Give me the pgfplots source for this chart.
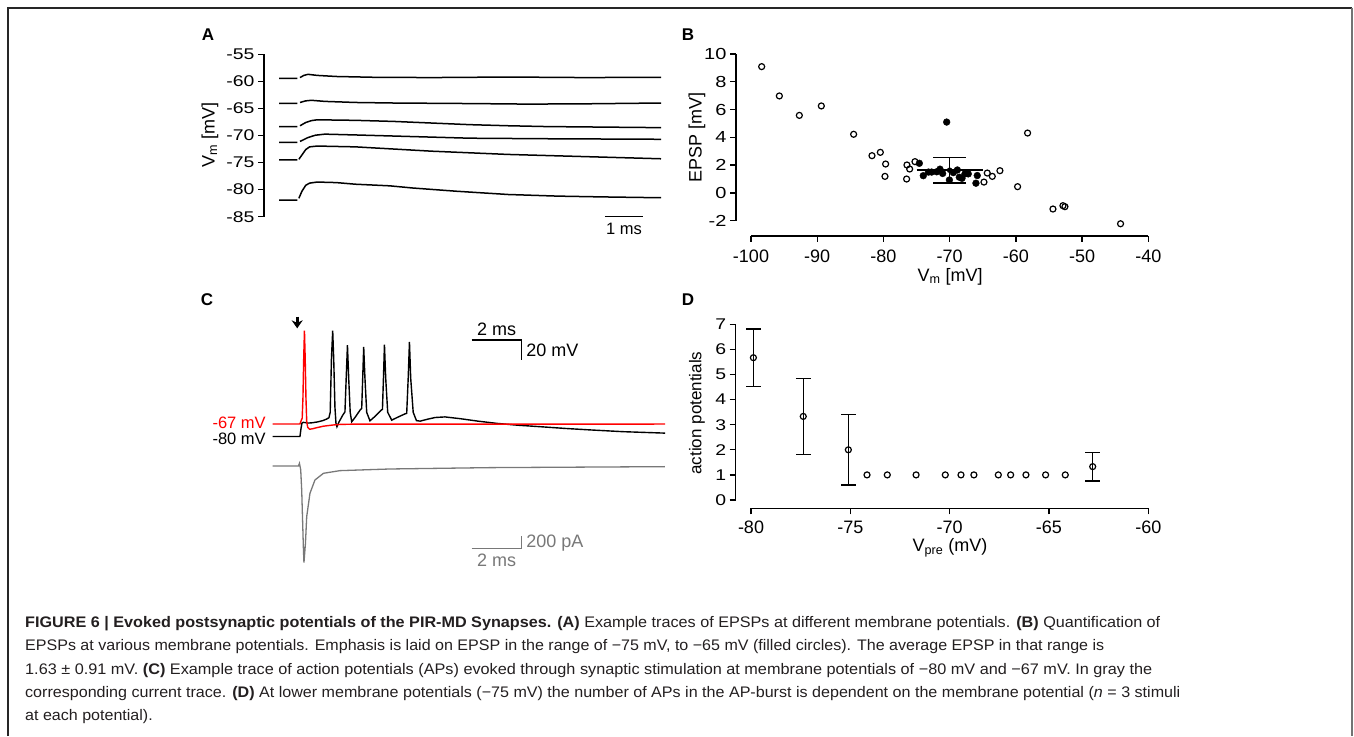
\documentclass[border=0pt]{standalone}
\usepackage{fontspec}
\setmainfont{Liberation Sans}
\newfontfamily\widefont[FakeStretch=1.25]{Liberation Sans}
\usepackage{graphicx}
\usepackage{pgfplots}
\pgfplotsset{compat=1.18}
\usetikzlibrary{arrows.meta}
\definecolor{trgray}{RGB}{120,120,120}
\definecolor{captxt}{RGB}{35,31,32}
\newcommand\fs[1]{\fontsize{#1}{#1}\selectfont}

\pgfplotsset{
  prism/.style={
    scale only axis, clip=false, separate axis lines,
    axis line style={line width=1.4pt, black},
    every tick/.style={line width=1.4pt, black},
    tick align=outside, major tick length=6pt, minor tick num=0,
    /pgf/number format/assume math mode=true,
    /pgf/number format/1000 sep={},
    yticklabel style={font=\widefont\fs{15.5}},
    xticklabel style={font=\fs{18}},
    label style={font=\fs{18}},
  },
  trace/.style={hide axis, scale only axis, clip=false},
}

\newlength\capw
\settowidth\capw{\fs{15.3}EPSPs at various membrane potentials. Emphasis is laid on EPSP in the range of −75 mV, to −65 mV (filled circles). The average EPSP in that range is}
\pgfmathsetmacro\capscale{1079/\capw}

\begin{document}
\begin{tikzpicture}
\useasboundingbox (0pt,0pt) rectangle (1354pt,736pt);
\fill[white] (0pt,0pt) rectangle (1354pt,736pt);
\draw[line width=1.5pt, black!85] (8pt,0pt) -- (8pt,728pt) -- (1352pt,728pt);
\draw[line width=1.5pt, black!55] (1352pt,728pt) -- (1352pt,0pt);

% panel letters
\node[font=\bfseries\fs{17}] at (208pt,701pt) {A};
\node[font=\bfseries\fs{17}] at (688pt,701pt) {B};
\node[font=\bfseries\fs{17}] at (207pt,436pt) {C};
\node[font=\bfseries\fs{17}] at (688pt,436pt) {D};

% ---------------- A ----------------
\begin{axis}[prism, at={(279pt,519.3pt)}, anchor=south west,
  width=382pt, height=162.4pt,
  xmin=0, xmax=10, ymin=-85, ymax=-55,
  axis x line=none, axis y line*=left, axis y line shift=15pt,
  ytick={-85,-80,...,-55},
  ylabel={V\textsubscript{m} [mV]},
  ylabel style={at={(axis description cs:-0.181,0.5)}, anchor=center},
  unbounded coords=jump]
\addplot[black, line width=1.5pt] coordinates {
  (0,-59.45)(0.48,-59.45)(0.5,nan)(0.55,-59.3)(0.65,-58.9)(0.76,-58.7)(1.0,-58.9)
  (1.5,-59.1)(2.5,-59.25)(4,-59.3)(6,-59.2)(8,-59.3)(10,-59.25)};
\addplot[black, line width=1.5pt] coordinates {
  (0,-64.05)(0.48,-64.05)(0.5,nan)(0.55,-63.9)(0.7,-63.6)(0.85,-63.5)(1.2,-63.7)
  (2,-63.9)(3,-64.0)(5,-64.1)(6.5,-64.2)(8,-64.15)(10,-64.0)};
\addplot[black, line width=1.5pt] coordinates {
  (0,-68.35)(0.48,-68.35)(0.5,nan)(0.55,-68.2)(0.7,-67.6)(0.85,-67.25)(1.0,-67.1)
  (2,-67.2)(3,-67.4)(4,-67.7)(5,-68.0)(6,-68.2)(7,-68.35)(8.5,-68.45)(10,-68.55)};
\addplot[black, line width=1.5pt] coordinates {
  (0,-71.25)(0.48,-71.25)(0.5,nan)(0.55,-71.1)(0.75,-70.4)(0.95,-69.95)(1.2,-69.75)
  (2,-69.9)(3,-70.1)(4,-70.3)(5,-70.5)(7,-70.6)(8.5,-70.65)(10,-70.7)};
\addplot[black, line width=1.5pt] coordinates {
  (0,-74.5)(0.48,-74.5)(0.5,nan)(0.52,-74.4)(0.6,-73.6)(0.7,-72.6)(0.8,-72.1)(1.0,-71.95)
  (2,-72.1)(3,-72.5)(4,-72.9)(5,-73.2)(6,-73.5)(7,-73.7)(8,-73.9)(9,-74.1)(10,-74.3)};
\addplot[black, line width=1.5pt] coordinates {
  (0,-81.95)(0.48,-81.95)(0.5,nan)(0.52,-81.6)(0.6,-80.3)(0.7,-79.2)(0.8,-78.8)(1.0,-78.6)
  (1.5,-78.7)(2,-79.0)(2.9,-79.3)(3.5,-79.7)(4.65,-80.3)(6,-80.9)(7.3,-81.2)(8.5,-81.35)(10,-81.5)};
\draw[line width=1.4pt] (axis cs:8.53,-85) -- (axis cs:9.53,-85);
\node[font=\fs{16.5}, anchor=north] at (axis cs:9.03,-85.5) {1 ms};
\end{axis}

% ---------------- B ----------------
\begin{axis}[prism, at={(751pt,515.3pt)}, anchor=south west,
  width=397.3pt, height=166.7pt,
  xmin=-100, xmax=-40, ymin=-2, ymax=10,
  axis x line*=bottom, axis y line*=left,
  axis x line shift=15.3pt, axis y line shift=15pt,
  xtick={-100,-90,...,-40}, ytick={-2,0,...,10},
  yticklabel style={font=\widefont\fs{16}},
  xticklabel style={yshift=-4pt},
  xlabel={V\textsubscript{m} [mV]}, ylabel={EPSP [mV]},
  xlabel style={at={(axis description cs:0.501,-0.336)}, anchor=center},
  ylabel style={at={(axis description cs:-0.136,0.5)}, anchor=center}]
\addplot[only marks, mark=o, mark size=3pt, line width=1.2pt, black,
  mark options={fill=white}] coordinates {
  (-98.39,9.09)(-95.72,6.98)(-92.70,5.58)(-89.38,6.26)(-84.50,4.22)
  (-81.73,2.68)(-80.47,2.92)(-79.67,2.08)(-79.77,1.19)(-76.45,2.01)
  (-76.04,1.72)(-76.50,1.00)(-75.24,2.25)(-64.32,1.43)(-63.56,1.19)
  (-64.82,0.78)(-62.41,1.60)(-59.74,0.45)(-58.23,4.31)(-54.40,-1.16)
  (-52.89,-0.92)(-52.59,-0.99)(-44.19,-2.22)};
\addplot[only marks, mark=*, mark size=3.4pt, black] coordinates {
  (-74.58,2.13)(-73.98,1.24)(-73.2,1.50)(-72.72,1.50)(-71.96,1.52)(-71.46,1.71)
  (-71.06,1.40)(-70.45,5.10)(-70.04,0.93)(-69.45,1.46)(-68.84,1.65)(-68.54,1.13)
  (-68.14,1.05)(-67.69,1.37)(-67.19,1.37)(-66.03,0.70)(-65.83,1.25)};
\addplot[black, line width=2pt] coordinates {(-75,1.63)(-65,1.63)};
\addplot[black, line width=1.5pt, only marks, mark=none,
  error bars/.cd, y dir=both, y explicit,
  error bar style={line width=1.5pt},
  error mark options={rotate=90, mark size=16.5pt, line width=1.5pt}]
  coordinates {(-70,1.63) +- (0,0.91)};
\end{axis}

% ---------------- C (voltage) ----------------
\begin{axis}[trace, at={(272.7pt,297.3pt)}, anchor=south west,
  width=392.5pt, height=109.4pt,
  xmin=0, xmax=15.7, ymin=-82, ymax=30]
\addplot[black, line width=1.4pt] coordinates {
  (0,-79.7)(1.09,-79.7)(1.13,-72)(1.17,-66)(1.22,-65.3)(1.3,-65.5)(1.4,-66)(1.55,-65.8)
  (1.8,-64.8)(2.0,-63.5)(2.15,-62)(2.25,-60.5)(2.3,-55)(2.35,0)(2.4,28.7)(2.44,0)
  (2.49,-50)(2.53,-66)(2.57,-69.7)(2.65,-65)(2.8,-58)(2.89,-54.5)(2.94,-20)(2.99,13.7)
  (3.04,-20)(3.1,-55)(3.16,-64.7)(3.3,-60)(3.5,-52.5)(3.56,-51)(3.6,-20)(3.64,12)
  (3.69,-20)(3.76,-55)(3.89,-63.7)(4.1,-59)(4.35,-52.5)(4.39,-52)(4.43,-20)(4.47,14.3)
  (4.52,-20)(4.6,-55)(4.76,-63)(5.0,-60)(5.3,-56.5)(5.36,-56)(5.42,-20)(5.47,17)
  (5.52,-20)(5.62,-55)(5.75,-63.5)(5.9,-64)(6.2,-62)(6.5,-60.3)(6.89,-59.7)(7.5,-61.5)
  (8.2,-64)(8.96,-66.3)(9.8,-68.2)(10.69,-69.7)(11.7,-71.5)(12.69,-73)(14,-74.8)(15.7,-76.3)};
\addplot[red, line width=1.4pt] coordinates {
  (0,-67)(1.09,-67)(1.13,-64)(1.18,-61)(1.21,-40)(1.24,0)(1.27,28.7)(1.30,0)(1.33,-40)
  (1.36,-64)(1.40,-70.5)(1.48,-72.3)(1.6,-71.8)(1.8,-70.5)(2.03,-69.2)(2.4,-68)
  (2.69,-67.4)(3.2,-67.1)(15.7,-67)};
\draw[line width=1.4pt] (axis cs:7.96,19) -- (axis cs:9.96,19) -- (axis cs:9.96,-1);
\node[font=\fs{18}, anchor=south] at (axis cs:8.96,19.5) {2 ms};
\node[font=\fs{18}, anchor=west, inner sep=1pt] at (axis cs:10.1,8) {20 mV};
\draw[line width=2.6pt, -{Stealth[length=8pt,width=11pt]}] (axis cs:0.98,43) -- (axis cs:0.98,31);
\node[font=\fs{16.5}, anchor=east, red, inner sep=0pt] at (axis cs:-0.27,-66) {-67 mV};
\node[font=\fs{16.5}, anchor=east, inner sep=0pt] at (axis cs:-0.27,-81.8) {-80 mV};
\end{axis}

% ---------------- C (current) ----------------
\begin{axis}[trace, at={(272.7pt,164.8pt)}, anchor=south west,
  width=392.5pt, height=110.7pt,
  xmin=0, xmax=15.7, ymin=-1700, ymax=100]
\addplot[trgray, line width=1.3pt] coordinates {
  (0,10)(1.03,10)(1.07,54)(1.12,-50)(1.16,-379)(1.23,-1355)(1.25,-1561)(1.31,-1247)
  (1.36,-813)(1.49,-434)(1.69,-217)(2.03,-108)(2.69,-65)(4.69,-38)(8.69,-16)(15.69,0)};
\draw[trgray, line width=1.4pt] (axis cs:7.96,-1327) -- (axis cs:9.96,-1327) -- (axis cs:9.96,-1127);
\node[trgray, font=\fs{18}, anchor=west, inner sep=1pt] at (axis cs:10.1,-1245) {200 pA};
\node[trgray, font=\fs{18}] at (axis cs:8.96,-1517) {2 ms};
\end{axis}

% ---------------- D ----------------
\begin{axis}[prism, at={(751pt,236pt)}, anchor=south west,
  width=397.3pt, height=175.7pt,
  xmin=-80, xmax=-60, ymin=0, ymax=7,
  axis x line*=bottom, axis y line*=left,
  axis x line shift=8.3pt, axis y line shift=15.3pt,
  xtick={-80,-75,...,-60}, ytick={0,1,...,7},
  xticklabel style={yshift=-3pt},
  xlabel={V\textsubscript{pre} (mV)}, ylabel={action potentials},
  xlabel style={at={(axis description cs:0.501,-0.273)}, anchor=center},
  ylabel style={at={(axis description cs:-0.136,0.495)}, anchor=center, font=\fs{17}}]
\addplot[only marks, mark=o, mark size=3pt, line width=1.2pt, black,
  mark options={fill=white},
  error bars/.cd, y dir=both, y explicit,
  error bar style={line width=1.4pt},
  error mark options={rotate=90, mark size=7.3pt, line width=1.4pt}]
  coordinates {
  (-79.88,5.67) +- (0,1.15)
  (-77.37,3.33) +- (0,1.52)
  (-75.10,2.00) +- (0,1.41)
  (-62.80,1.33) +- (0,0.57)};
\addplot[only marks, mark=o, mark size=3pt, line width=1.2pt, black,
  mark options={fill=white}] coordinates {
  (-74.16,1)(-73.14,1)(-71.69,1)(-70.22,1)(-69.43,1)(-68.78,1)
  (-67.55,1)(-66.93,1)(-66.16,1)(-65.17,1)(-64.18,1)};
\end{axis}

% ---------------- caption ----------------
\begin{scope}[every node/.style={anchor=base west, inner sep=0pt, text=captxt, font=\fs{15.3}}]
\node at (25pt,108.3pt) {\resizebox{1135pt}{\height}{\textbf{FIGURE 6 | Evoked postsynaptic potentials of the PIR-MD Synapses. (A)} Example traces of EPSPs at different membrane potentials. \textbf{(B)} Quantification of}};
\node at (25pt,85pt) {\resizebox{1079pt}{\height}{EPSPs at various membrane potentials. Emphasis is laid on EPSP in the range of −75 mV, to −65 mV (filled circles). The average EPSP in that range is}};
\node at (25pt,61.7pt) {\resizebox{1127pt}{\height}{1.63 ± 0.91 mV. \textbf{(C)} Example trace of action potentials (APs) evoked through synaptic stimulation at membrane potentials of −80 mV and −67 mV. In gray the}};
\node at (25pt,38.3pt) {\resizebox{1155pt}{\height}{corresponding current trace. \textbf{(D)} At lower membrane potentials (−75 mV) the number of APs in the AP-burst is dependent on the membrane potential (\textit{n} = 3 stimuli}};
\node at (25pt,15.3pt) {\scalebox{\capscale}[1]{at each potential).}};
\end{scope}
\end{tikzpicture}
\end{document}
